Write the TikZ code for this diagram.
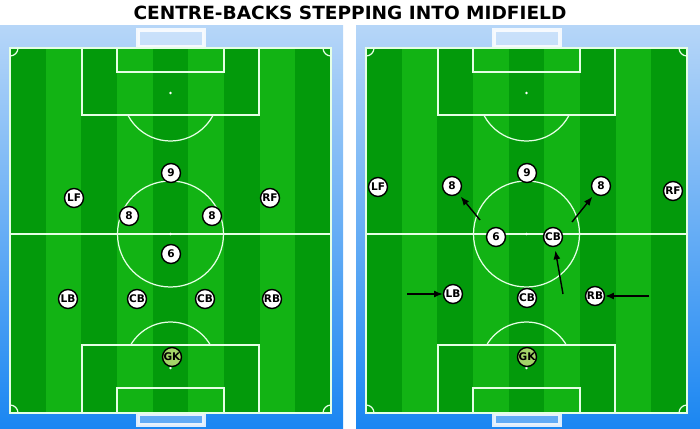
\documentclass[tikz,border=0pt]{standalone}
\usepackage{fontspec}
\setsansfont{DejaVu Sans}
\usepackage{graphicx}
\usepackage{tikz}
\usetikzlibrary{positioning}
\usetikzlibrary{calc}
\usetikzlibrary{arrows.meta}
\definecolor{skytop}{HTML}{B6D6F8}
\definecolor{skymid}{HTML}{6CB0F6}
\definecolor{skydeep}{HTML}{1A86F2}
\definecolor{pitchdark}{HTML}{039A0B}
\definecolor{pitchlight}{HTML}{12B314}
\definecolor{gkgreen}{HTML}{A4D468}

\begin{document}
\begin{tikzpicture}[x=0.02cm, y=-0.02cm,
every node/.style={inner sep=0pt},
player/.style={circle, draw=black, line width=0.8pt, fill=white, minimum size=0.38cm, font=\sffamily\bfseries\fontsize{6}{6}\selectfont},
keeper/.style={player, fill=gkgreen},
pitchline/.style={white!90!green, line width=0.7pt},
goalframe/.style={draw=white, draw opacity=0.85, fill=white, fill opacity=0.3, line width=1.8pt},
move/.style={-{Latex[length=5pt,width=4pt]}, line width=0.8pt, black}]

\useasboundingbox (0,0) rectangle (700,429);

% title
\node (title) at (350,13) {\resizebox{8.66cm}{0.27cm}{\sffamily\bfseries CENTRE-BACKS STEPPING INTO MIDFIELD}};

% the two pitches
\foreach \ox/\w in {0/343, 356/344} {
\begin{scope}[shift={(\ox,0)}]
 \shade[top color=skytop, middle color=skymid, bottom color=skydeep] (0,26) rectangle (\w,429);
 \fill[pitchdark] (10,48) rectangle (331,413);
 \foreach \k in {1,3,5,7}
  \fill[pitchlight] ({10+\k*35.67},48) rectangle ({10+(\k+1)*35.67},413);

 % goals
 \path[goalframe] (138,30) rectangle (204,47);
 \path[goalframe] (138,414) rectangle (204,425);

 % markings
 \draw[pitchline] (10,48) rectangle (331,413);
 \draw[pitchline] (10,234) -- (331,234);
 \draw[pitchline] (170.5,234) circle (53);
 \draw[pitchline] (82,48) rectangle (259,115);
 \draw[pitchline] (117,48) rectangle (224,72);
 \draw[pitchline] (82,345) rectangle (259,413);
 \draw[pitchline] (117,388) rectangle (224,413);
 \foreach \p in {(170.5,93), (170.5,234), (170.5,368)}
  \fill[white] \p circle (1.3);
 \begin{scope}
  \clip (0,115) rectangle (343,200);
  \draw[pitchline] (170.5,93) circle (48);
 \end{scope}
 \begin{scope}
  \clip (0,280) rectangle (343,345);
  \draw[pitchline] (170.5,368) circle (46);
 \end{scope}
 \begin{scope}
  \clip (10,48) rectangle (331,413);
  \foreach \c in {(10,48), (331,48), (10,413), (331,413)}
   \draw[pitchline] \c circle (8);
 \end{scope}
\end{scope}
}

% before: flat back four
\foreach \n/\x/\y/\t in {lnine/171/173/9, llf/74/198/LF, lrf/270/198/RF, leightl/129/216/8,
  leightr/212/216/8, lsix/171/254/6, llb/68/299/LB, lcbl/137/299/CB, lcbr/205/299/CB, lrb/272/299/RB}
 \node[player] (\n) at (\x,\y) {\t};
\node[keeper] (lgk) at (172,357) {GK};

% after: one centre-back steps in
\foreach \n/\x/\y/\t in {rnine/527/173/9, rlf/378/187/LF, rrf/673/191/RF, reightl/452/186/8,
  reightr/601/186/8, rsix/496/237/6, rcbup/553/237/CB, rlb/453/294/LB, rcb/527/298/CB, rrb/595/296/RB}
 \node[player] (\n) at (\x,\y) {\t};
\node[keeper] (rgk) at (527,357) {GK};

\coordinate (eightlfrom) at (480,220);
\coordinate (eightrfrom) at (572,222);
\coordinate (cbfrom) at (563,294);
\coordinate (lbfrom) at (407,294);
\coordinate (rbfrom) at (649,296);

\draw[move, shorten >=2pt] (eightlfrom) -- (reightl);
\draw[move, shorten >=2pt] (eightrfrom) -- (reightr);
\draw[move, shorten >=2pt] (cbfrom) -- (rcbup);
\draw[move] (lbfrom) -- (rlb);
\draw[move] (rbfrom) -- (rrb);

\end{tikzpicture}
\end{document}
